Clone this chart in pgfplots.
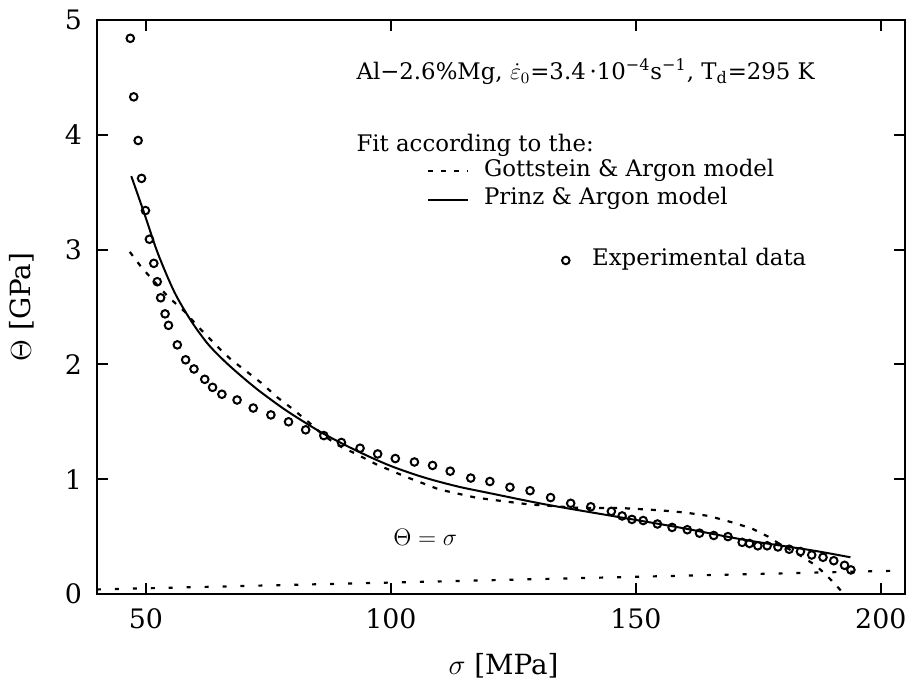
\documentclass[border=0pt]{standalone}
\usepackage{pgfplots}
\pgfplotsset{compat=1.18}
\usepackage{fontspec}
\setmainfont{DejaVu Serif}

\pgfplotstableread{
x y
46.8 4.84
47.5 4.33
48.4 3.95
49.1 3.62
49.9 3.34
50.7 3.09
51.6 2.88
52.3 2.72
53.0 2.58
53.9 2.44
54.6 2.34
56.4 2.17
58.1 2.04
59.8 1.96
62.0 1.87
63.6 1.80
65.5 1.74
68.6 1.69
71.9 1.62
75.5 1.56
79.1 1.50
82.6 1.43
86.3 1.38
89.9 1.32
93.7 1.27
97.3 1.22
100.9 1.18
104.8 1.15
108.5 1.12
112.1 1.07
116.3 1.01
120.2 0.98
124.3 0.93
128.4 0.90
132.6 0.84
136.7 0.79
140.8 0.76
145.0 0.72
147.2 0.68
149.2 0.65
151.5 0.64
154.4 0.61
157.4 0.58
160.5 0.56
163.0 0.53
165.9 0.51
168.8 0.50
171.7 0.45
173.2 0.44
174.9 0.42
176.8 0.42
179.0 0.41
181.3 0.39
183.6 0.37
185.9 0.34
188.2 0.32
190.4 0.29
192.6 0.25
193.9 0.21
}\expdata

\pgfplotstableread{
x y
47.0 3.64
49.7 3.31
52.4 2.97
55.8 2.63
59.2 2.38
62.6 2.18
66.0 2.03
69.4 1.90
72.8 1.78
76.9 1.65
80.0 1.56
86.1 1.40
92.9 1.25
99.7 1.12
106.4 1.02
113.3 0.94
120.0 0.88
131.6 0.78
145.2 0.68
158.8 0.58
172.4 0.47
186.0 0.38
193.8 0.32
}\prinz

\pgfplotstableread{
x y
46.7 2.98
49.0 2.85
51.5 2.73
54.5 2.59
57.9 2.46
60.6 2.33
64.7 2.15
67.4 2.04
70.5 1.94
73.5 1.84
76.9 1.71
80.0 1.61
83.4 1.49
86.0 1.39
89.0 1.30
92.9 1.22
97.0 1.13
103.1 1.02
109.9 0.91
117.3 0.84
120.8 0.82
128.3 0.78
138.4 0.75
146.5 0.75
154.7 0.73
160.0 0.71
164.9 0.68
170.0 0.62
173.7 0.57
177.0 0.50
179.2 0.44
183.0 0.35
186.7 0.25
189.0 0.16
191.0 0.07
192.5 0.00
}\gottstein

\pgfplotstableread{
x y
40 0.040
205 0.205
}\identity

\begin{document}
\begin{tikzpicture}
\begin{axis}[
  name=main,
  scale only axis, width=405.5bp, height=288bp,
  xmin=40, xmax=205, ymin=0, ymax=5,
  xtick={50,100,150,200}, ytick={0,1,2,3,4,5},
  tick align=inside, major tick length=5.5bp,
  tick style={black, line width=1bp},
  axis line style={line width=1.2bp},
  /pgf/number format/assume math mode=true,
  ticklabel style={font=\fontsize{13.5}{15}\selectfont},
  xticklabel style={yshift=-4bp},
  yticklabel style={xshift=-4bp},
  xlabel={$\sigma$ [MPa]}, ylabel={$\Theta$ [GPa]},
  every axis x label/.style={at={(axis description cs:0.503,-0.125)},anchor=center,font=\fontsize{14}{16}\selectfont},
  every axis y label/.style={at={(axis description cs:-0.0925,0.5)},rotate=90,anchor=center,font=\fontsize{14}{16}\selectfont},
  legend style={at={(axis description cs:0.4078,0.7575)}, anchor=north west, draw=none, fill=none,
    inner sep=0pt, row sep=2.5bp, font=\fontsize{11.5}{13}\selectfont,
    nodes={inner sep=1bp, text height=7.5bp, text depth=2.2bp},
    /tikz/every odd column/.append style={column sep=6.5bp}},
  legend cell align=left,
  legend image code/.code={\draw[#1] (0bp,0bp) -- (20bp,0bp);},
]
\addplot[black, line width=1.1bp, dash pattern=on 2.5bp off 4bp] table {\gottstein};
\addlegendentry{Gottstein \& Argon model}
\addplot[black, line width=1bp, smooth] table {\prinz};
\addlegendentry{Prinz \& Argon model}
\addplot[black, line width=1.1bp, dash pattern=on 2bp off 7bp, forget plot] table {\identity};
\addplot[only marks, mark=o, mark size=1.9bp, mark options={line width=1bp, black}, forget plot] table {\expdata};
% key symbol for the experimental data
\addplot[only marks, mark=o, mark size=1.9bp, mark options={line width=1bp, black}, forget plot] coordinates {(135.7,2.905)};

\node[anchor=base west, inner sep=0pt, font=\fontsize{11.5}{13}\selectfont] at (axis cs:92.9,4.48)
  {Al−2.6\%Mg, $\dot{\varepsilon}_0$=3.4\,·10\textsuperscript{−4}s\textsuperscript{−1}, T\textsubscript{d}=295 K};
\node[anchor=base west, inner sep=0pt, font=\fontsize{11.5}{13}\selectfont] at (axis cs:92.9,3.857)
  {Fit according to the:};
\node[anchor=base west, inner sep=0pt, font=\fontsize{11.5}{13}\selectfont] at (axis cs:141.0,2.862)
  {Experimental data};
\node[font=\fontsize{12}{14}\selectfont] at (axis cs:107,0.49) {$\Theta=\sigma$};
\end{axis}

\path (main.south west) ++(-48.65bp,-44bp);
\path (main.north east) ++(2.5bp,10bp);
\end{tikzpicture}
\end{document}
